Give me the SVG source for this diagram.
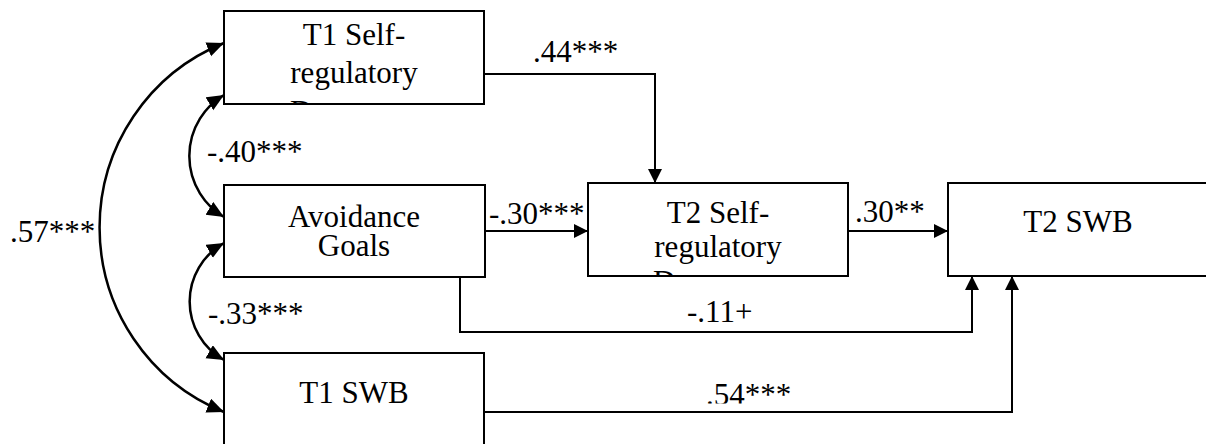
<svg xmlns="http://www.w3.org/2000/svg" width="1206" height="444" viewBox="0 0 1206 444">
<style>
.box{fill:#fff;stroke:#000;stroke-width:2}
.t{font-family:'Liberation Serif','Times New Roman',serif;font-size:31px;fill:#000}
.m{text-anchor:middle}
.c{fill:none;stroke:#000;stroke-width:2}
.cv{fill:none;stroke:#000;stroke-width:2.5}
.a{marker-end:url(#ah)}
.d{marker-start:url(#ahc);marker-end:url(#ahc)}
</style>
<defs>
<marker id="ah" markerUnits="userSpaceOnUse" markerWidth="16" markerHeight="16" refX="14" refY="7" orient="auto-start-reverse"><path d="M0,0 L14,7 L0,14 z" fill="#000"/></marker>
<marker id="ahc" markerUnits="userSpaceOnUse" markerWidth="18" markerHeight="16" refX="17" refY="7.5" orient="auto-start-reverse"><path d="M0,0 L17,7.5 L0,15 z" fill="#000"/></marker>
<clipPath id="cp1" clipPathUnits="userSpaceOnUse"><rect x="224" y="11" width="260" height="94"/></clipPath>
<clipPath id="cp2" clipPathUnits="userSpaceOnUse"><rect x="588" y="183" width="260" height="94"/></clipPath>
<clipPath id="cp3" clipPathUnits="userSpaceOnUse"><rect x="600" y="360" width="300" height="43.5"/></clipPath>
</defs>
<rect width="1206" height="444" fill="#fff"/>
<g id="t1-self">
<rect class="box" x="224" y="11" width="260" height="93"/>
<g clip-path="url(#cp1)">
<text class="t m" x="354" y="45">T1 Self-</text>
<text class="t m" x="354" y="83">regulatory</text>
<text class="t" x="290" y="122">D</text>
</g>
</g>
<g id="avoidance">
<rect class="box" x="224" y="185" width="261" height="92"/>
<text class="t m" x="354" y="227">Avoidance</text>
<text class="t m" x="354" y="256">Goals</text>
</g>
<g id="t1-swb">
<rect class="box" x="224" y="353" width="260" height="93"/>
<text class="t m" x="354" y="403">T1 SWB</text>
</g>
<g id="t2-self">
<rect class="box" x="588" y="183" width="260" height="93"/>
<g clip-path="url(#cp2)">
<text class="t m" x="718" y="223">T2 Self-</text>
<text class="t m" x="718" y="257">regulatory</text>
<text class="t" x="653" y="292">D</text>
</g>
</g>
<g id="t2-swb">
<rect class="box" x="948" y="183" width="260" height="93"/>
<text class="t m" x="1078" y="232">T2 SWB</text>
</g>
<g id="connectors">
<path class="c a" d="M484,74 H655 V183"/>
<path class="c a" d="M485,231 H588"/>
<path class="c a" d="M848,231 H948"/>
<path class="c a" d="M460,277 V332 H972 V276"/>
<path class="c a" d="M484,412 H1012 V276"/>
<path class="cv d" d="M224,43 A199,199 0 0 0 224,412"/>
<path class="cv d" d="M224,95 A71,71 0 0 0 224,217"/>
<path class="cv d" d="M224,243 A67,67 0 0 0 224,360"/>
<text class="t" x="533" y="62">.44***</text>
<text class="t" x="207" y="162">-.40***</text>
<text class="t" x="10" y="242">.57***</text>
<text class="t" x="489" y="224">-.30***</text>
<text class="t" x="855" y="222">.30**</text>
<text class="t" x="208" y="324">-.33***</text>
<text class="t" x="687" y="322">-.11+</text>
<text class="t" x="706" y="405" clip-path="url(#cp3)">.54***</text>
</g>
</svg>
